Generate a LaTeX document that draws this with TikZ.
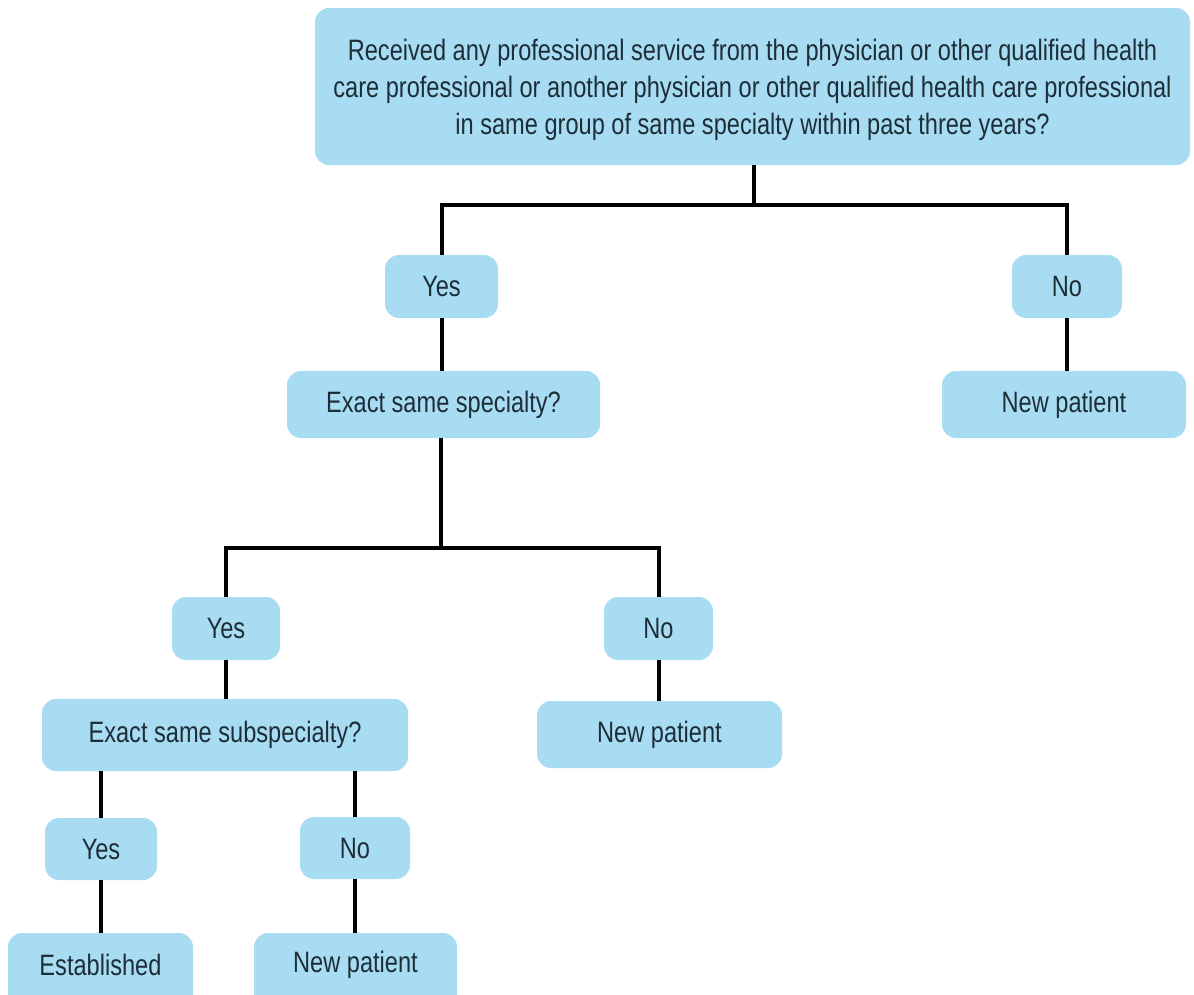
\documentclass[tikz,border=0pt]{standalone}
\usepackage{fontspec}
\setmainfont{Liberation Sans}[FakeStretch=0.8]
\definecolor{boxblue}{HTML}{A8DCF2}
\definecolor{txt}{HTML}{1E2E38}
\begin{document}
\begin{tikzpicture}[x=1pt,y=-1pt,
  box/.style={fill=boxblue, draw=none, rounded corners=14pt, inner sep=0pt, align=center,
    text=txt, font=\fontsize{29.5}{37}\selectfont},
  lbl/.style={text=txt, font=\fontsize{29.5}{37}\selectfont, inner sep=0pt, align=center},
  link/.style={line width=4pt, black}]
\useasboundingbox (0,0) rectangle (1194,994);
\clip (0,0) rectangle (1194,994);
\node[box, minimum width=875pt, minimum height=157pt] (top) at (752.5,86.5) {};
\node[lbl] (toptext) at (752.5,90)
  {Received any professional service from the physician or other qualified health\\
   care professional or another physician or other qualified health care professional\\
   in same group of same specialty within past three years?};
\node[box, minimum width=113pt, minimum height=63pt] (yes1) at (441.5,286.5) {Yes};
\node[box, minimum width=110pt, minimum height=63pt] (no1) at (1067,286.5) {No};
\node[box, minimum width=313pt, minimum height=67pt] (spec) at (443.5,404.5) {Exact same specialty?};
\node[box, minimum width=244pt, minimum height=67pt] (np1) at (1064,404.5) {New patient};
\node[box, minimum width=108pt, minimum height=63pt] (yes2) at (226,628.5) {Yes};
\node[box, minimum width=109pt, minimum height=63pt] (no2) at (658.5,628.5) {No};
\node[box, minimum width=366pt, minimum height=72pt] (sub) at (225,735) {Exact same subspecialty?};
\node[box, minimum width=245pt, minimum height=67pt] (np2) at (659.5,734.5) {New patient};
\node[box, minimum width=112pt, minimum height=62pt] (yes3) at (101,849) {Yes};
\node[box, minimum width=110pt, minimum height=62pt] (no3) at (355,848) {No};
\node[box, minimum width=185pt, minimum height=90pt] (est) at (100.5,978) {};
\node[lbl] at (100.5,965) {Established};
\node[box, minimum width=203pt, minimum height=90pt] (np3) at (355.5,978) {};
\node[lbl] at (355.5,965) {New patient};
\coordinate (j1) at (754,205);
\coordinate (j2) at (441,548);
\draw[link] (754,0 |- top.south) -- (j1);
\draw[link] (j1) -| (yes1.north);
\draw[link] (j1) -| (no1.north);
\draw[link] (yes1.south) -- (spec.north -| yes1.south);
\draw[link] (no1.south) -- (np1.north -| no1.south);
\draw[link] (spec.south -| j2) -- (j2);
\draw[link] (j2) -| (yes2.north);
\draw[link] (j2) -| (no2.north);
\draw[link] (yes2.south) -- (sub.north -| yes2.south);
\draw[link] (no2.south) -- (np2.north -| no2.south);
\draw[link] (sub.south -| yes3.north) -- (yes3.north);
\draw[link] (sub.south -| no3.north) -- (no3.north);
\draw[link] (yes3.south) -- (est.north -| yes3.south);
\draw[link] (no3.south) -- (np3.north -| no3.south);
\end{tikzpicture}
\end{document}
